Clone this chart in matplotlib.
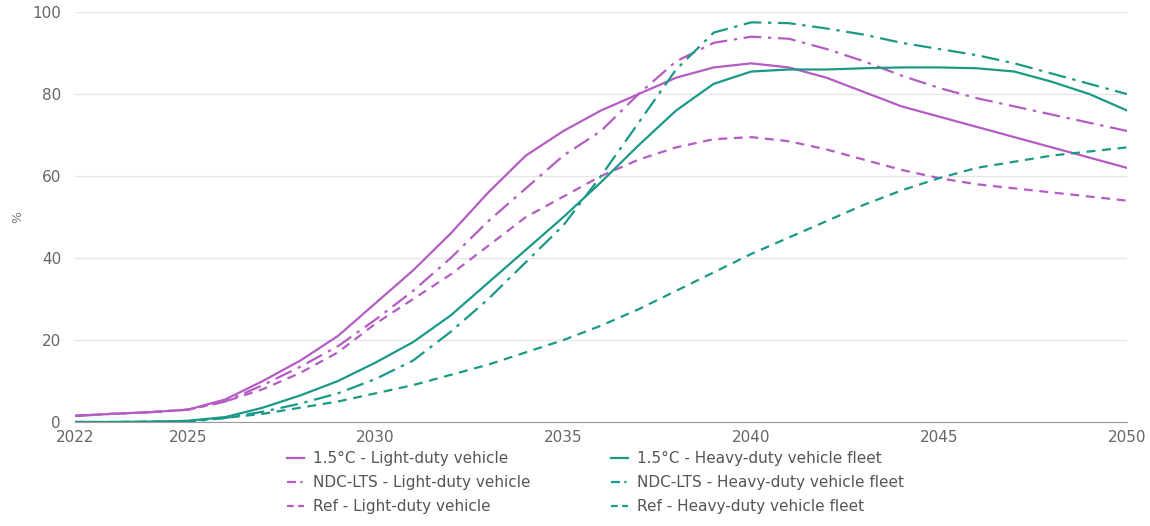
import matplotlib
matplotlib.use("Agg")
import matplotlib.pyplot as plt
from matplotlib.lines import Line2D

plt.rcParams['font.family'] = ['DejaVu Sans']

years = list(range(2022, 2051))

ldv_15 = [1.5, 2, 2.4, 3, 5.5, 10, 15, 21, 29, 37, 46, 56, 65, 71, 76, 80, 84, 86.5, 87.5,
          86.5, 84, 80.5, 77, 74.5, 72, 69.5, 67, 64.5, 62]
ldv_ndc = [1.5, 2, 2.4, 3, 5, 9, 13.5, 18.5, 25, 32, 40, 49, 57, 65, 71, 80, 88, 92.5, 94,
           93.5, 91, 88, 84.5, 81.5, 79, 77, 75, 73, 71]
ldv_ref = [1.5, 2, 2.4, 3, 5, 8, 12, 17, 24, 30, 36, 43, 50, 55, 60, 64, 67, 69, 69.5,
           68.5, 66.5, 64, 61.5, 59.5, 58, 57, 56, 55, 54]
hdv_15 = [0, 0, 0.1, 0.3, 1.2, 3.5, 6.5, 10, 14.5, 19.5, 26, 34, 42, 50, 58.5, 67.5, 76, 82.5, 85.5,
          86, 86, 86.3, 86.5, 86.5, 86.3, 85.5, 83, 80, 76]
hdv_ndc = [0, 0, 0, 0, 1, 2.5, 4.5, 7, 10.5, 15, 22, 30, 39, 48, 60, 73, 86, 95, 97.5,
           97.3, 96, 94.5, 92.5, 91, 89.5, 87.5, 85, 82.5, 80]
hdv_ref = [0, 0, 0.1, 0.2, 1, 2, 3.5, 5, 7, 9, 11.5, 14, 17, 20, 23.5, 27.5, 32, 36.5, 41,
           45, 49, 53, 56.5, 59.5, 62, 63.5, 65, 66, 67]

labels = ["1.5°C - Light-duty vehicle", "NDC-LTS - Light-duty vehicle", "Ref - Light-duty vehicle",
          "1.5°C - Heavy-duty vehicle fleet", "NDC-LTS - Heavy-duty vehicle fleet",
          "Ref - Heavy-duty vehicle fleet"]
xticks = [2022, 2025, 2030, 2035, 2040, 2045, 2050]
yticks = [0, 20, 40, 60, 80, 100]

purple = '#b45cc4'
teal = '#1a9987'
dashdot = (0, (8, 3, 1.5, 3))
dashed = (0, (4, 3))
leg_styles = {'-': '-', dashdot: (0, (4, 2, 1, 2)), dashed: (0, (3, 2))}

fig = plt.figure(figsize=(11.5, 5.26), dpi=100)
ax = fig.add_axes([0.0652, 0.1977, 0.9148, 0.7793])

series = [(ldv_15, purple, '-'), (ldv_ndc, purple, dashdot), (ldv_ref, purple, dashed),
          (hdv_15, teal, '-'), (hdv_ndc, teal, dashdot), (hdv_ref, teal, dashed)]
handles = []
for (vals, col, ls), lab in zip(series, labels):
    ax.plot(years, vals, color=col, linestyle=ls, linewidth=1.6, label=lab)
    handles.append(Line2D([], [], color=col, linestyle=leg_styles[ls], linewidth=1.6))

ax.set_xlim(2022, 2050)
ax.set_ylim(0, 100)
ax.set_xticks(xticks)
ax.set_yticks(yticks)
ax.grid(axis='y', color='#e6e6e6', linewidth=1)
ax.set_axisbelow(True)
for s in ['top', 'right', 'left']:
    ax.spines[s].set_visible(False)
ax.spines['bottom'].set_color('#999999')
ax.tick_params(axis='both', length=0, labelsize=11, colors='#666666')
ax.tick_params(axis='x', pad=6)
ax.tick_params(axis='y', pad=10)
ax.set_ylabel('%', color='#777777', fontsize=9, labelpad=6)

leg = fig.legend(handles=handles, labels=labels, ncol=2, loc='upper center',
                 bbox_to_anchor=(0.518, 0.169), frameon=False, fontsize=11,
                 handlelength=1.1, handletextpad=0.6, columnspacing=5.3, labelspacing=0.6)
for t in leg.get_texts():
    t.set_color('#555555')

fig.savefig('out.png', dpi=100)
